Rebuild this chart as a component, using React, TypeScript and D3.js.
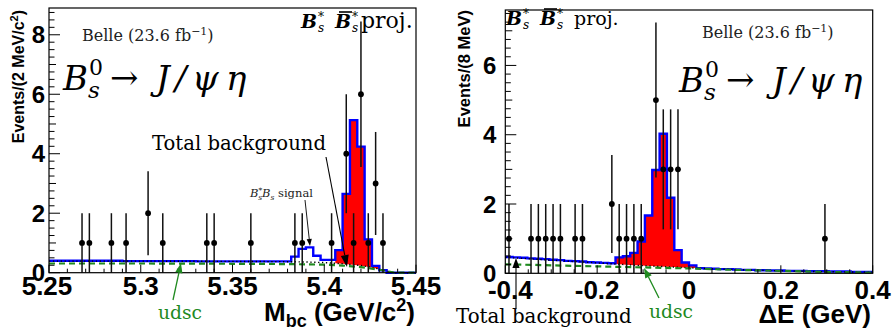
import React from 'react';
import * as d3 from 'd3';

// ================= Left panel : Mbc =================
const mbcDomain = [5.25, 5.45];
const mbcYMax = 8.9;
const mbcTickValues = [5.25, 5.3, 5.35, 5.4, 5.45];
const mbcTickLabels = ['5.25', '5.3', '5.35', '5.4', '5.45'];
const mbcYTickValues = [0, 2, 4, 6, 8];
const mbcBinLow = 5.25;
const mbcBinWidth = 0.004;
// total fit (blue histogram), 50 bins of 4 MeV
const mbcTotalFit = [
  0.40, 0.40, 0.40, 0.40, 0.40, 0.40, 0.40, 0.40, 0.40, 0.40,
  0.39, 0.39, 0.39, 0.39, 0.39, 0.39, 0.39, 0.39, 0.39, 0.39,
  0.38, 0.38, 0.38, 0.38, 0.38, 0.38, 0.38, 0.38, 0.38, 0.38,
  0.38, 0.38, 0.38, 0.54, 0.80, 0.85, 0.57, 0.43, 0.43, 0.76,
  2.65, 5.13, 4.24, 1.12, 0.23, 0.08, 0, 0, 0, 0,
];
const mbcDataX = [5.268, 5.272, 5.284, 5.292, 5.304, 5.312, 5.336, 5.340, 5.360, 5.384, 5.388, 5.404, 5.412, 5.416, 5.420, 5.424, 5.428, 5.432];
const mbcDataN = [1, 1, 1, 1, 2, 1, 1, 1, 1, 1, 1, 1, 4, 1, 6, 1, 3, 1];
const mbcTotalBkgX = [5.25, 5.30, 5.35, 5.38, 5.39, 5.40, 5.41, 5.42, 5.425, 5.43, 5.435, 5.438, 5.45];
const mbcTotalBkgY = [0.39, 0.39, 0.38, 0.37, 0.36, 0.34, 0.30, 0.24, 0.19, 0.12, 0.04, 0, 0];
const mbcUdscX = [5.25, 5.30, 5.35, 5.38, 5.40, 5.41, 5.42, 5.43, 5.435, 5.438, 5.45];
const mbcUdscY = [0.31, 0.31, 0.30, 0.29, 0.27, 0.24, 0.19, 0.10, 0.04, 0, 0];
const mbcSignalBins = [39, 45];

// ================= Right panel : Delta E =================
const deDomain = [-0.4, 0.4];
const deYMax = 7.6;
const deTickValues = [-0.4, -0.2, 0, 0.2, 0.4];
const deTickLabels = ['-0.4', '-0.2', '0', '0.2', '0.4'];
const deYTickValues = [0, 2, 4, 6];
const deBinLow = -0.4;
const deBinWidth = 0.016;
const deTotalFit = [
  0.47, 0.46, 0.45, 0.43, 0.42, 0.41, 0.39, 0.38, 0.36, 0.35,
  0.34, 0.32, 0.31, 0.30, 0.29, 0.46, 0.49, 0.59, 0.92, 1.67,
  2.98, 4.03, 2.18, 0.67, 0.31, 0.23, 0.15, 0.14, 0.13, 0.12,
  0.12, 0.11, 0.10, 0.10, 0.09, 0.09, 0.08, 0.08, 0.07, 0.07,
  0.07, 0.06, 0.06, 0.06, 0.05, 0.05, 0.05, 0.04, 0.04, 0.04,
];
const deDataX = [-0.392, -0.344, -0.328, -0.312, -0.296, -0.280, -0.248, -0.232, -0.168, -0.152, -0.136, -0.120, -0.104, -0.072, -0.056, -0.040, -0.024, 0.296];
const deDataN = [1, 1, 1, 1, 1, 1, 1, 1, 2, 1, 1, 1, 1, 5, 3, 3, 3, 1];
const deTotalBkgX = [-0.4, -0.35, -0.3, -0.25, -0.2, -0.15, -0.1, -0.05, 0, 0.05, 0.1, 0.2, 0.3, 0.4];
const deTotalBkgY = [0.46, 0.42, 0.38, 0.34, 0.30, 0.26, 0.22, 0.19, 0.16, 0.13, 0.11, 0.07, 0.045, 0.03];
const deUdscX = [-0.4, -0.3, -0.2, -0.1, 0, 0.1, 0.2, 0.3, 0.4];
const deUdscY = [0.26, 0.23, 0.20, 0.17, 0.14, 0.10, 0.07, 0.04, 0.02];
const deSignalBins = [15, 25];

const SERIF = "'DejaVu Serif', serif";
const SANS = "'Liberation Sans', Arial, Helvetica, sans-serif";
const BLUE = '#0000ff';
const RED = '#ff0000';
const GREEN = '#1f8a1f';

type Frame = { left: number; right: number; top: number; bottom: number };

function Arrow({ x1, y1, x2, y2, color = '#000', len = 9, half = 3.2, width = 1.1 }:
  { x1: number; y1: number; x2: number; y2: number; color?: string; len?: number; half?: number; width?: number }) {
  const a = Math.atan2(y2 - y1, x2 - x1);
  const bx = x2 - len * Math.cos(a), by = y2 - len * Math.sin(a);
  const px = -Math.sin(a) * half, py = Math.cos(a) * half;
  return (
    <g>
      <line x1={x1} y1={y1} x2={bx} y2={by} stroke={color} strokeWidth={width} />
      <path d={`M${x2},${y2}L${bx + px},${by + py}L${bx - px},${by - py}Z`} fill={color} />
    </g>
  );
}

function Panel(props: {
  frame: Frame; domain: number[]; yMax: number;
  binLow: number; binWidth: number; totalFit: number[];
  dataX: number[]; dataN: number[];
  bkgX: number[]; bkgY: number[]; udscX: number[]; udscY: number[];
  signalBins: number[];
  tickValues: number[]; tickLabels: string[]; yTickValues: number[];
  minorX: number; majorX: number; tickLabelY: number; yLabelGap: number; firstLabelShift: number;
}) {
  const { frame: f } = props;
  const x = d3.scaleLinear().domain(props.domain).range([f.left, f.right]);
  const y = d3.scaleLinear().domain([0, props.yMax]).range([f.bottom, f.top]);
  const line = d3.line<[number, number]>().x(d => x(d[0])).y(d => y(d[1]));

  const histPts: [number, number][] = [];
  props.totalFit.forEach((v, k) => {
    histPts.push([props.binLow + k * props.binWidth, v]);
    histPts.push([props.binLow + (k + 1) * props.binWidth, v]);
  });

  const bkgInterp = d3.scaleLinear().domain(props.bkgX).range(props.bkgY).clamp(true);
  const [sa, sb] = props.signalBins;
  const redPts: [number, number][] = [];
  for (let k = sa; k <= sb; k++) {
    redPts.push([props.binLow + k * props.binWidth, props.totalFit[k]]);
    redPts.push([props.binLow + (k + 1) * props.binWidth, props.totalFit[k]]);
  }
  for (let k = sb + 1; k >= sa; k--) {
    const e = props.binLow + k * props.binWidth;
    redPts.push([e, bkgInterp(e)]);
  }

  const bkgPts = props.bkgX.map((v, i) => [v, props.bkgY[i]] as [number, number]);
  const udscPts = props.udscX.map((v, i) => [v, props.udscY[i]] as [number, number]);

  const [d0, d1] = props.domain;
  const nMinor = Math.round((d1 - d0) / props.minorX);
  const xTicks: { v: number; major: boolean }[] = [];
  for (let i = 0; i <= nMinor; i++) {
    const v = d0 + i * props.minorX;
    const r = (v - props.tickValues[0]) / props.majorX;
    xTicks.push({ v, major: Math.abs(r - Math.round(r)) < 1e-6 });
  }
  const yTicks: { v: number; len: number }[] = [];
  for (let i = 0; i * 0.25 <= props.yMax + 1e-9; i++) {
    const v = i * 0.25;
    yTicks.push({ v, len: i % 8 === 0 ? 11 : i % 4 === 0 ? 7 : 5.5 });
  }

  return (
    <g>
      <path d={line(redPts) + 'Z'} fill={RED} stroke="none" />
      <path d={line(histPts) || ''} fill="none" stroke={BLUE} strokeWidth={2.4} strokeLinejoin="miter" />
      <path d={line(bkgPts) || ''} fill="none" stroke="#000" strokeWidth={1.4} strokeDasharray="1.3,2.6" />
      <path d={line(udscPts) || ''} fill="none" stroke={GREEN} strokeWidth={2.2} strokeDasharray="6,4" />
      {props.dataX.map((v, i) => {
        const n = props.dataN[i];
        const e = Math.sqrt(n);
        return (
          <g key={i}>
            <line x1={x(v)} x2={x(v)} y1={y(Math.max(0, n - e))} y2={y(n + e)} stroke="#111" strokeWidth={1.5} />
            <circle cx={x(v)} cy={y(n)} r={2.9} fill="#000" />
          </g>
        );
      })}
      <rect x={f.left} y={f.top} width={f.right - f.left} height={f.bottom - f.top} fill="none" stroke="#000" strokeWidth={1.2} />
      {xTicks.map((t, i) => (
        <line key={i} x1={x(t.v)} x2={x(t.v)} y1={f.bottom} y2={f.bottom - (t.major ? 8 : 4)} stroke="#000" strokeWidth={1} />
      ))}
      {yTicks.map((t, i) => (
        <line key={i} x1={f.left} x2={f.left + t.len} y1={y(t.v)} y2={y(t.v)} stroke="#000" strokeWidth={1} />
      ))}
      {props.tickValues.map((v, i) => (
        <text key={i} x={x(v) + (i === 0 ? props.firstLabelShift : 0)} y={props.tickLabelY} textAnchor="middle"
          fontFamily={SANS} fontWeight="bold" fontSize={26}>
          {props.tickLabels[i]}
        </text>
      ))}
      {props.yTickValues.map((v, i) => (
        <text key={i} x={f.left - props.yLabelGap} y={y(v)} dy="0.36em" textAnchor="end" fontFamily={SANS} fontWeight="bold" fontSize={24}>
          {v}
        </text>
      ))}
    </g>
  );
}

function Decay({ x, y }: { x: number; y: number }) {
  const it = { fontFamily: SERIF, fontStyle: 'italic' as const };
  return (
    <g transform={`translate(${x},${y})`}>
      <text x={0} y={0} fontSize={34} {...it}>B</text>
      <text x={26} y={-15} fontSize={22} fontFamily={SERIF}>0</text>
      <text x={25} y={8} fontSize={23} {...it}>s</text>
      <text x={47} y={-1} fontSize={34} fontFamily={SERIF}>→</text>
      <text x={93} y={0} fontSize={34} {...it}>J</text>
      <text x={112} y={0} fontSize={34} {...it}>/</text>
      <text x={129} y={0} fontSize={34} {...it}>ψ</text>
      <text x={163} y={0} fontSize={34} {...it}>η</text>
    </g>
  );
}

function Proj({ x, y, projDx, projSize }: { x: number; y: number; projDx: number; projSize: number }) {
  const bi = { fontFamily: SERIF, fontStyle: 'italic' as const, fontWeight: 'bold' as const };
  return (
    <g transform={`translate(${x},${y})`}>
      <text x={0} y={0} fontSize={19} {...bi}>B</text>
      <text x={17} y={-7} fontSize={12} fontFamily={SERIF}>*</text>
      <text x={17} y={4} fontSize={12} fontFamily={SERIF} fontStyle="italic">s</text>
      <text x={34} y={0} fontSize={19} {...bi}>B</text>
      <line x1={38} x2={51} y1={-16} y2={-16} stroke="#000" strokeWidth={1.6} />
      <text x={51} y={-7} fontSize={12} fontFamily={SERIF}>*</text>
      <text x={51} y={4} fontSize={12} fontFamily={SERIF} fontStyle="italic">s</text>
      <text x={projDx} y={0} fontSize={projSize} fontFamily={SERIF}>proj.</text>
    </g>
  );
}

function Belle({ x, y }: { x: number; y: number }) {
  return (
    <text x={x} y={y} fontFamily={SERIF} fontSize={16} fill="#222">
      Belle (23.6 fb<tspan dy={-6} fontSize={11}>−1</tspan><tspan dy={6}>)</tspan>
    </text>
  );
}

export default function App() {
  const fl: Frame = { left: 49, right: 416, top: 8, bottom: 272.7 };
  const fr: Frame = { left: 505.3, right: 872.7, top: 10, bottom: 273.3 };
  return (
    <svg width={892} height={332} viewBox="0 0 892 332" style={{ position: 'absolute', left: 0, top: 0, background: '#fff' }}>
      <rect x={0} y={0} width={892} height={332} fill="#fff" />
      <Panel frame={fl} domain={mbcDomain} yMax={mbcYMax} binLow={mbcBinLow} binWidth={mbcBinWidth}
        totalFit={mbcTotalFit} dataX={mbcDataX} dataN={mbcDataN}
        bkgX={mbcTotalBkgX} bkgY={mbcTotalBkgY} udscX={mbcUdscX} udscY={mbcUdscY}
        signalBins={mbcSignalBins} tickValues={mbcTickValues} tickLabels={mbcTickLabels}
        yTickValues={mbcYTickValues} minorX={0.01} majorX={0.05} tickLabelY={295} yLabelGap={4} firstLabelShift={-2} />
      <Panel frame={fr} domain={deDomain} yMax={deYMax} binLow={deBinLow} binWidth={deBinWidth}
        totalFit={deTotalFit} dataX={deDataX} dataN={deDataN}
        bkgX={deTotalBkgX} bkgY={deTotalBkgY} udscX={deUdscX} udscY={deUdscY}
        signalBins={deSignalBins} tickValues={deTickValues} tickLabels={deTickLabels}
        yTickValues={deYTickValues} minorX={0.05} majorX={0.2} tickLabelY={299} yLabelGap={9} firstLabelShift={5} />

      {/* axis titles */}
      <text transform="translate(24,10) rotate(-90)" textAnchor="end" fontFamily={SANS} fontWeight="bold" fontSize={16}>
        Events/(2 MeV/c<tspan dy={-6} fontSize={11}>2</tspan><tspan dy={6}>)</tspan>
      </text>
      <text transform="translate(470,10) rotate(-90)" textAnchor="end" fontFamily={SANS} fontWeight="bold" fontSize={16.5}>
        Events/(8 MeV)
      </text>
      <text x={415} y={321} textAnchor="end" fontFamily={SANS} fontWeight="bold" fontSize={26}>
        M<tspan dy={6} fontSize={18}>bc</tspan><tspan dy={-6}> (GeV/c</tspan><tspan dy={-10} fontSize={18}>2</tspan><tspan dy={10}>)</tspan>
      </text>
      <text x={871} y={323} textAnchor="end" fontFamily={SANS} fontWeight="bold" fontSize={26}>ΔE (GeV)</text>

      {/* left annotations */}
      <Belle x={82} y={41} />
      <Decay x={63} y={90} />
      <Proj x={301} y={28} projDx={60} projSize={22} />
      <text x={152} y={150} fontFamily={SERIF} fontSize={19.6}>Total background</text>
      <Arrow x1={326} y1={157} x2={347} y2={267} len={12} half={4} />
      <text x={250} y={197} fontFamily={SERIF} fontSize={11.5} fill="#222">
        <tspan fontStyle="italic">B</tspan><tspan dy={-4} fontSize={7.5}>*</tspan><tspan dx={-4} dy={7} fontSize={7.5} fontStyle="italic">s</tspan><tspan dy={-3} fontStyle="italic">B</tspan><tspan dy={3} fontSize={7.5} fontStyle="italic">s</tspan><tspan dy={-3}> signal</tspan>
      </text>
      <Arrow x1={305} y1={200} x2={310} y2={246} len={7} half={2.6} width={0.9} />
      <text x={158} y={319} fontFamily={SERIF} fontSize={18.7} fill={GREEN}>udsc</text>
      <Arrow x1={173} y1={300} x2={181} y2={263} color={GREEN} len={10} half={3.6} width={1.3} />

      {/* right annotations */}
      <Proj x={506} y={25} projDx={68} projSize={19} />
      <Belle x={702} y={38} />
      <Decay x={679} y={92} />
      <text x={456} y={323} fontFamily={SERIF} fontSize={19.8}>Total background</text>
      <Arrow x1={516} y1={309} x2={516} y2={258} len={10} half={3.6} />
      <text x={649} y={318} fontFamily={SERIF} fontSize={18.7} fill={GREEN}>udsc</text>
      <Arrow x1={659} y1={298} x2={644} y2={268} color={GREEN} len={10} half={3.6} width={1.3} />
    </svg>
  );
}
